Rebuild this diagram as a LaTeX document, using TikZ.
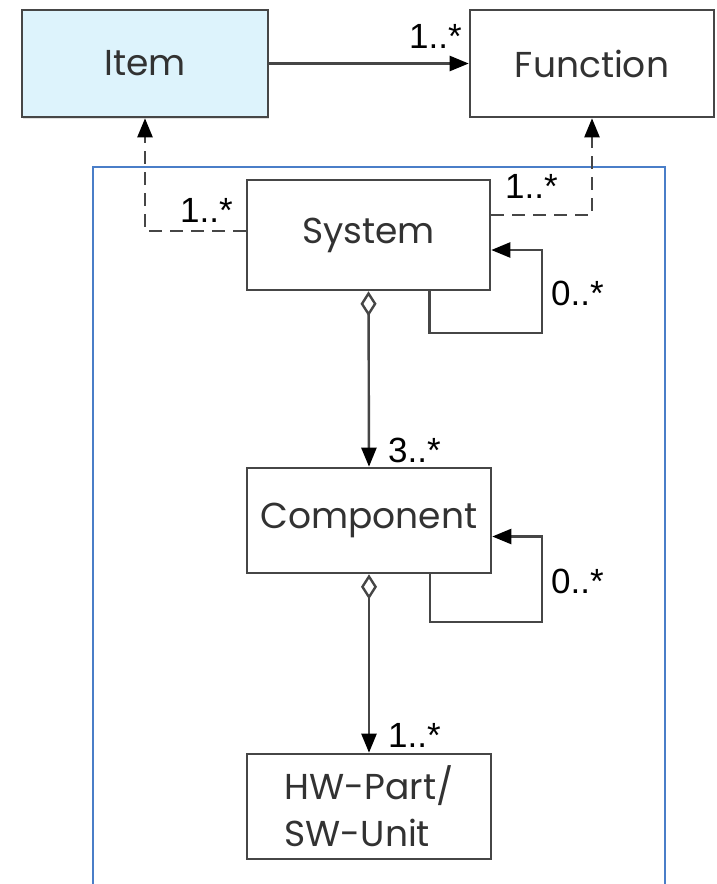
\documentclass[tikz,border=0pt]{standalone}
\usepackage{fontspec}
\usepackage{tikz}
\usetikzlibrary{arrows.meta, shadows}
\newfontfamily\boxfont{Poppins}
\newfontfamily\multfont{Liberation Sans}
\definecolor{linegrey}{RGB}{70,70,70}
\definecolor{textgrey}{RGB}{50,50,50}
\definecolor{itemblue}{RGB}{221,243,252}
\definecolor{frameblue}{RGB}{74,126,200}

\tikzset{
  block/.style={draw=linegrey, line width=2.6pt, fill=white, minimum width=244pt,
                minimum height=107pt, inner sep=0pt, text=textgrey, align=center,
                font=\boxfont\fontsize{36}{47}\selectfont},
  mult/.style={anchor=base west, inner sep=0pt, text=black,
               font=\multfont\fontsize{35}{40}\selectfont},
  assoc/.style={line width=2.4pt, draw=linegrey,
                -{Triangle[length=19pt, width=15pt, color=black]}},
  depend/.style={assoc, dash pattern=on 13pt off 8pt},
  aggr/.style={assoc, {Diamond[open, length=25pt, width=16pt, color=linegrey]}-{Triangle[length=19pt, width=15pt, color=black]}},
  frame/.style={draw=frameblue, line width=2pt}
}

\begin{document}
\begin{tikzpicture}[x=1pt, y=-1pt]
  \useasboundingbox (0,0) rectangle (716,884);
  \fill[white] (0,0) rectangle (716,884);
  % package frame
  \draw[frame] (93,167) rectangle (665,895);
  % classes
  \node[block, fill=itemblue, minimum width=246pt,
        drop shadow={shadow xshift=1pt, shadow yshift=-2pt, opacity=0.25}]
        (item) at (145,63.5) {Item};
  \node[block] (function)  at (592,63.5) {Function};
  \node[block, minimum width=243pt, minimum height=110pt] (system) at (368.5,235) {System};
  \node[block, minimum width=244pt, minimum height=105pt] (component) at (369,520.5) {Component};
  \node[block, minimum width=244pt, minimum height=105pt, align=left] (hwsw) at (369,806.5) {HW-Part/\\SW-Unit};
  % bend points of the loops
  \coordinate (sysloop)  at (542,333);
  \coordinate (comploop) at (542,622);
  % connectors
  \draw[assoc] (item.east) -- (function.west);
  \draw[depend] ([yshift=4pt]system.west) -| (item.south);
  \draw[depend] ([yshift=20pt]system.east) -| (function.south);
  \draw[assoc] ([xshift=61pt]system.south) |- (sysloop) |- ([yshift=-15pt]system.east);
  \draw[assoc] ([xshift=61pt]component.south) |- (comploop) |- ([yshift=-16pt]component.east);
  \draw[aggr] (system.south) -- (component.north);
  \draw[aggr] (component.south) -- (hwsw.north);
  % multiplicities
  \node[mult] (m-func)  at (409,48)  {1..*};
  \node[mult] (m-item)  at (180,222) {1..*};
  \node[mult] (m-sysf)  at (505,198) {1..*};
  \node[mult] (m-sysl)  at (551,305) {0..*};
  \node[mult] (m-comp)  at (388,462) {3..*};
  \node[mult] (m-compl) at (551,593) {0..*};
  \node[mult] (m-hwsw)  at (388,747) {1..*};
\end{tikzpicture}
\end{document}
